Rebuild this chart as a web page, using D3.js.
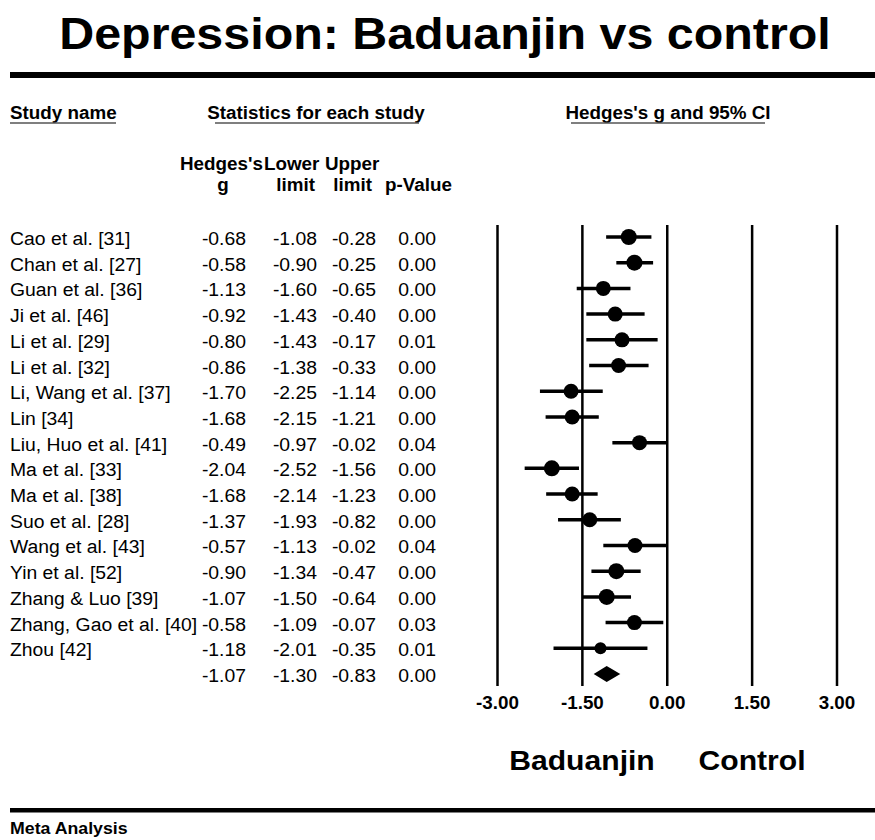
<!DOCTYPE html>
<html><head><meta charset="utf-8">
<script src="https://cdn.jsdelivr.net/npm/d3@7"></script>
<style>body{margin:0;background:#fff}svg{display:block}text{font-family:"Liberation Sans",Arial,sans-serif;fill:#000}</style>
</head><body><svg id="c" width="875" height="840"></svg>
<script>
const studies = ["Cao et al. [31]","Chan et al. [27]","Guan et al. [36]","Ji et al. [46]","Li et al. [29]","Li et al. [32]","Li, Wang et al. [37]","Lin [34]","Liu, Huo et al. [41]","Ma et al. [33]","Ma et al. [38]","Suo et al. [28]","Wang et al. [43]","Yin et al. [52]","Zhang & Luo [39]","Zhang, Gao et al. [40]","Zhou [42]"];
const g     = [-0.68,-0.58,-1.13,-0.92,-0.80,-0.86,-1.70,-1.68,-0.49,-2.04,-1.68,-1.37,-0.57,-0.90,-1.07,-0.58,-1.18];
const lower = [-1.08,-0.90,-1.60,-1.43,-1.43,-1.38,-2.25,-2.15,-0.97,-2.52,-2.14,-1.93,-1.13,-1.34,-1.50,-1.09,-2.01];
const upper = [-0.28,-0.25,-0.65,-0.40,-0.17,-0.33,-1.14,-1.21,-0.02,-1.56,-1.23,-0.82,-0.02,-0.47,-0.64,-0.07,-0.35];
const pval  = ["0.00","0.00","0.00","0.00","0.01","0.00","0.00","0.00","0.04","0.00","0.00","0.00","0.04","0.00","0.00","0.03","0.01"];
const weight = [8,8,7.5,7.5,7.5,7.5,7.5,7.5,7.5,8,7.5,7.5,7.5,8,8,7.5,6];
const summary = {g:-1.07, lower:-1.30, upper:-0.83, p:"0.00"};
const ticks = [-3.00,-1.50,0.00,1.50,3.00];

const svg = d3.select("#c");
const x = d3.scaleLinear().domain([-3,3]).range([497.5,837]);
const rows = studies.map((s,i)=>i).concat([studies.length]);
const y = d3.scalePoint().domain(rows).range([237,674]);
const f2 = d => d3.format(".2f")(d).replace("\u2212","-");

// title
svg.append("text").attr("x",445).attr("y",49).attr("text-anchor","middle").attr("class","st")
  .style("font-size","45px").style("font-weight","bold").text("Depression: Baduanjin vs control");
svg.append("rect").attr("x",10).attr("y",72).attr("width",865).attr("height",6).attr("fill","#000");

// headers
function ul(txt, xx, yy, anchor, w0, w1){
  svg.append("text").attr("x",xx).attr("y",yy).attr("text-anchor",anchor).attr("class","st")
    .style("font-size","17.5px").style("font-weight","bold").text(txt);
  svg.append("line").attr("x1",w0).attr("x2",w1).attr("y1",yy+4).attr("y2",yy+4)
    .attr("stroke","#555").attr("stroke-width",1.4);
}
ul("Study name",10,119,"start",10,116);
ul("Statistics for each study",316,119,"middle",215,419);
ul("Hedges's g and 95% CI",668,119,"middle",571,765);

const hdr = svg.append("g").style("font-size","17.5px").style("font-weight","bold");
hdr.append("text").attr("x",180).attr("y",170).text("Hedges's");
hdr.append("text").attr("x",264).attr("y",170).text("Lower");
hdr.append("text").attr("x",325).attr("y",170).text("Upper");
hdr.append("text").attr("x",223).attr("y",191).attr("text-anchor","middle").text("g");
hdr.append("text").attr("x",315).attr("y",191).attr("text-anchor","end").text("limit");
hdr.append("text").attr("x",372).attr("y",191).attr("text-anchor","end").text("limit");
hdr.append("text").attr("x",452).attr("y",191).attr("text-anchor","end").text("p-Value");
hdr.selectAll("text").attr("class","st");

// table
const tbl = svg.append("g").style("font-size","18px");
const allG = g.concat([summary.g]), allL = lower.concat([summary.lower]), allU = upper.concat([summary.upper]), allP = pval.concat([summary.p]);
rows.forEach(i=>{
  const yy = y(i)+8;
  if(i<studies.length) tbl.append("text").attr("x",10).attr("y",yy).text(studies[i]);
  tbl.append("text").attr("x",246).attr("y",yy).attr("text-anchor","end").text(f2(allG[i]));
  tbl.append("text").attr("x",317).attr("y",yy).attr("text-anchor","end").text(f2(allL[i]));
  tbl.append("text").attr("x",376).attr("y",yy).attr("text-anchor","end").text(f2(allU[i]));
  tbl.append("text").attr("x",436).attr("y",yy).attr("text-anchor","end").text(allP[i]);
});
tbl.selectAll("text").attr("class","st");

// vertical grid lines
svg.append("g").selectAll("line").data(ticks).join("line")
  .attr("x1",d=>x(d)).attr("x2",d=>x(d)).attr("y1",225).attr("y2",686)
  .attr("stroke","#000").attr("stroke-width",2.5);
svg.append("g").selectAll("text").data(ticks).join("text").attr("class","st")
  .attr("x",d=>x(d)).attr("y",709).attr("text-anchor","middle")
  .style("font-size","17.5px").style("font-weight","bold").text(d=>f2(d));

// CIs & points
const pts = svg.append("g");
studies.forEach((s,i)=>{
  pts.append("line").attr("x1",x(lower[i])).attr("x2",x(upper[i])).attr("y1",y(i)).attr("y2",y(i))
    .attr("stroke","#000").attr("stroke-width",3.5);
  pts.append("circle").attr("cx",x(g[i])).attr("cy",y(i)).attr("r",weight[i]).attr("fill","#000");
});
const ys = y(studies.length);
pts.append("path").attr("d",`M${x(summary.lower)},${ys}L${x(summary.g)},${ys-8}L${x(summary.upper)},${ys}L${x(summary.g)},${ys+8}Z`).attr("fill","#000");

// bottom labels
svg.append("text").attr("x",582).attr("y",770).attr("text-anchor","middle").attr("class","st")
  .style("font-size","28px").style("font-weight","bold").text("Baduanjin");
svg.append("text").attr("x",752).attr("y",770).attr("text-anchor","middle").attr("class","st")
  .style("font-size","28px").style("font-weight","bold").text("Control");
svg.append("rect").attr("x",10).attr("y",808).attr("width",865).attr("height",4.5).attr("fill","#000");
svg.append("text").attr("x",10).attr("y",834).attr("class","st").style("font-size","16.5px").style("font-weight","bold").text("Meta Analysis");

// slight horizontal stretch like the reference rendering
svg.selectAll("text.st").each(function(){
  const w = this.getComputedTextLength();
  this.setAttribute("textLength", (w*1.075).toFixed(1));
  this.setAttribute("lengthAdjust","spacingAndGlyphs");
});
</script></body></html>
